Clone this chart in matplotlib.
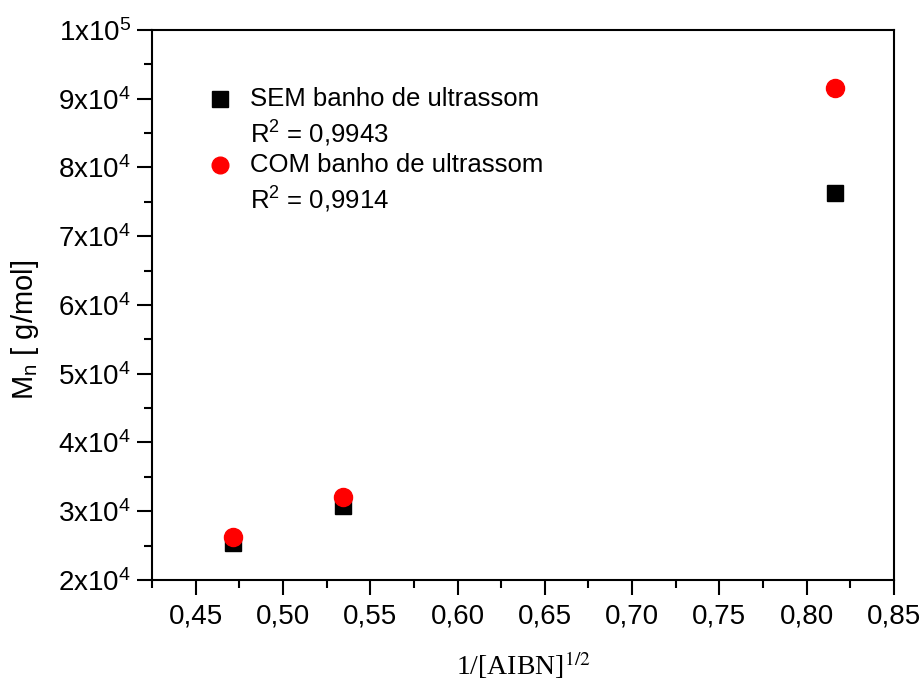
import matplotlib.pyplot as plt
from matplotlib.ticker import FuncFormatter, MultipleLocator

plt.rcParams['font.family'] = ['Liberation Sans', 'DejaVu Sans']
plt.rcParams['mathtext.fontset'] = 'custom'
plt.rcParams['mathtext.rm'] = 'Liberation Sans'
plt.rcParams['mathtext.it'] = 'Liberation Sans:italic'

# dados
x_aibn = [0.4714, 0.5345, 0.8165]
mn_sem = [25400, 30700, 76300]
mn_com = [26300, 32100, 91600]
r2_sem = "0,9943"
r2_com = "0,9914"
rotulos = ["SEM banho de ultrassom", "COM banho de ultrassom"]

fig = plt.figure(figsize=(9.24, 6.82), dpi=100)
ax = fig.add_axes([0.1645, 0.1496, 0.803, 0.8064])

ax.plot(x_aibn, mn_sem, 's', color='black', markersize=11.5, linestyle='none', zorder=3)
ax.plot(x_aibn, mn_com, 'o', color='red', markersize=13, linestyle='none', zorder=4)

ax.set_xlim(0.425, 0.85)
ax.set_ylim(20000, 100000)

ax.xaxis.set_major_locator(MultipleLocator(0.05))
ax.xaxis.set_minor_locator(MultipleLocator(0.025))
ax.yaxis.set_major_locator(MultipleLocator(10000))
ax.yaxis.set_minor_locator(MultipleLocator(5000))

def fmt_x(v, pos):
    return f"{v:.2f}".replace('.', ',')

def fmt_y(v, pos):
    if v >= 100000:
        return r"1x10$^5$"
    return rf"{int(round(v / 10000))}x10$^4$"

ax.xaxis.set_major_formatter(FuncFormatter(fmt_x))
ax.yaxis.set_major_formatter(FuncFormatter(fmt_y))

ax.tick_params(which='both', direction='out', top=False, right=False, width=1.5, labelsize=20)
ax.tick_params(which='major', length=11, pad=6)
ax.tick_params(axis='y', which='major', pad=4)
ax.tick_params(which='minor', length=6)
for s in ax.spines.values():
    s.set_linewidth(1.5)

ax.set_xlabel(r"1/[AIBN]$^{1/2}$", fontsize=20, family='Liberation Serif', labelpad=14,
              math_fontfamily='stix')
ax.set_ylabel(r"M$_\mathrm{n}$ [ g/mol]", fontsize=21)
ax.yaxis.set_label_coords(-0.150, 0.455)

# legenda manual (marcador + texto)
ax.plot(0.0916, 0.8745, 's', color='black', markersize=11, transform=ax.transAxes)
ax.plot(0.0916, 0.7545, 'o', color='red', markersize=12, transform=ax.transAxes)
linhas = [rotulos[0], "R$^2$ = " + r2_sem, rotulos[1], "R$^2$ = " + r2_com]
for txt, yy in zip(linhas, [0.8745, 0.811, 0.7545, 0.691]):
    ax.text(0.132, yy, txt, transform=ax.transAxes, fontsize=18.5, va='center', ha='left')

fig.savefig('out.png', dpi=100)
